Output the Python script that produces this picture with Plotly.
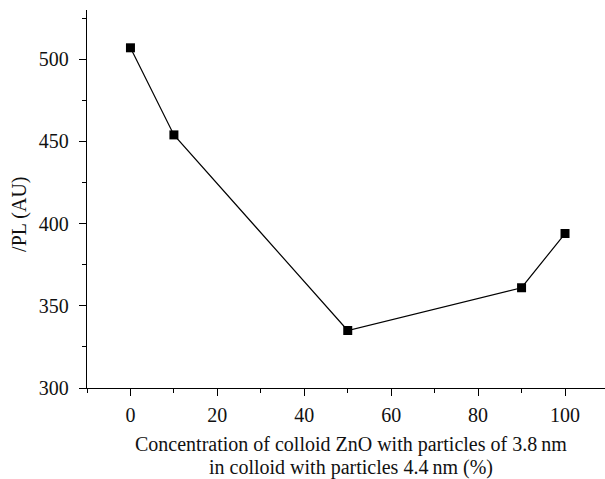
import plotly.graph_objects as go

concentration = [0, 10, 50, 90, 100]
pl_intensity = [507, 454, 335, 361, 394]

x_ticks = [0, 20, 40, 60, 80, 100]
y_ticks = [300, 350, 400, 450, 500]

x_title_lines = ["Concentration of colloid ZnO with particles of 3.8\u2009nm",
                 "in colloid with particles 4.4\u2009nm (%)"]
y_title = "/PL (AU)"

font_family = "Liberation Serif"
fs = 20

fig = go.Figure()
fig.add_trace(go.Scatter(
    x=concentration, y=pl_intensity, mode="lines+markers",
    line=dict(color="black", width=1.2),
    marker=dict(symbol="square", size=9, color="black"),
    showlegend=False,
))

axis_common = dict(
    showline=True, linecolor="black", linewidth=1.3,
    ticks="outside", ticklen=7, tickwidth=1.2, tickcolor="black",
    showgrid=False, zeroline=False, mirror=False,
    tickfont=dict(family=font_family, size=fs, color="#111"),
)

fig.update_xaxes(
    range=[-10, 109.2], tickvals=x_ticks,
    minor=dict(ticks="outside", ticklen=4, tickwidth=1.2, tickcolor="black", dtick=10),
    ticklabelstandoff=2,
    **axis_common,
)
fig.update_yaxes(
    range=[300, 530], tickvals=y_ticks,
    minor=dict(ticks="outside", ticklen=4, tickwidth=1.2, tickcolor="black", dtick=25),
    ticklabelstandoff=6,
    **axis_common,
)

for line, shift in zip(x_title_lines, [-56, -79]):
    fig.add_annotation(
        text=line,
        xref="paper", yref="paper", x=0.51, y=0, yshift=shift, xanchor="center", yanchor="middle",
        showarrow=False,
        font=dict(family=font_family, size=fs, color="#111"),
    )
fig.add_annotation(
    text=y_title,
    xref="paper", yref="paper", x=0, xshift=-67, y=0.458, xanchor="center", yanchor="middle",
    textangle=-90, showarrow=False,
    font=dict(family=font_family, size=fs, color="#111"),
)

fig.update_layout(
    width=605, height=479,
    margin=dict(l=87, r=0, t=10, b=91),
    paper_bgcolor="white", plot_bgcolor="white",
)

fig.write_html("out.html")
